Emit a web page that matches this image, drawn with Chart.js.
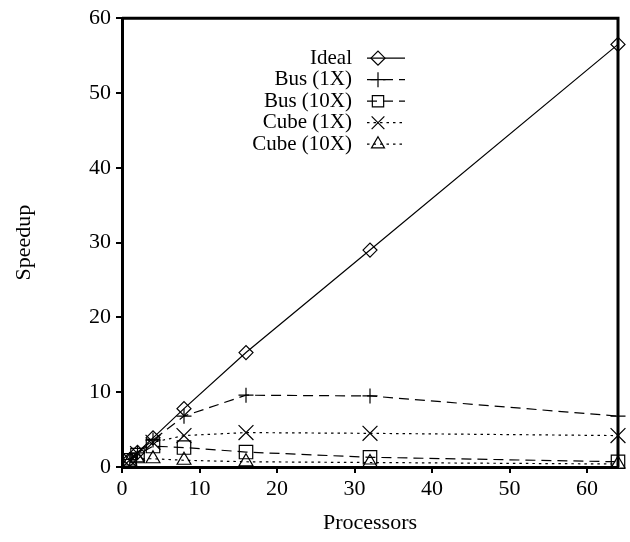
<!DOCTYPE html>
<html>
<head>
<meta charset="utf-8">
<script src="https://cdn.jsdelivr.net/npm/chart.js@4/dist/chart.umd.min.js"></script>
<style>
  html, body { margin: 0; padding: 0; background: #fff; }
  #wrap { width: 630px; height: 542px; }
</style>
</head>
<body>
<div id="wrap"><canvas id="c" width="630" height="542"></canvas></div>
<script>
// processors vs speedup
const procs     = [1, 2, 4, 8, 16, 32, 64];
const ideal     = [1, 1.95, 3.9, 7.8, 15.3, 29, 56.5];
const bus1x     = [1, 1.9, 3.6, 6.8, 9.6, 9.5, 6.8];
const bus10x    = [0.9, 1.6, 2.8, 2.6, 2.0, 1.3, 0.7];
const cube1x    = [0.95, 1.8, 3.3, 4.2, 4.6, 4.5, 4.2];
const cube10x   = [0.8, 1.1, 1.1, 0.9, 0.7, 0.6, 0.4];
const seriesNames = ['Ideal', 'Bus (1X)', 'Bus (10X)', 'Cube (1X)', 'Cube (10X)'];
const xTicks = [0, 10, 20, 30, 40, 50, 60];
const yTicks = [0, 10, 20, 30, 40, 50, 60];

const FONT = 'Liberation Serif, Times New Roman, serif';

function pts(ys) {
  return procs.map(function(p, i) { return {x: p, y: ys[i]}; });
}

function ds(label, ys, dash, style, r, legendR) {
  return {
    label: label,
    data: pts(ys),
    borderColor: '#000',
    borderWidth: 1.2,
    borderDash: dash,
    pointStyle: style,
    pointRadius: r,
    legendRadius: legendR,
    pointBorderColor: '#000',
    pointBackgroundColor: 'rgba(0,0,0,0)',
    pointBorderWidth: 1.2,
    tension: 0,
    fill: false,
    clip: false
  };
}

// legend: text right-aligned, sample line on the right
const sideLegend = {
  id: 'sideLegend',
  afterDraw: function(chart) {
    const ctx = chart.ctx;
    const a = chart.chartArea;
    const textRight = a.left + 230;
    const lx0 = a.left + 245, lx1 = a.left + 283, mx = a.left + 256;
    ctx.save();
    ctx.font = '21px ' + FONT;
    ctx.textAlign = 'right';
    ctx.textBaseline = 'middle';
    chart.data.datasets.forEach(function(d, i) {
      const y = a.top + 40 + i * 21.5;
      ctx.fillStyle = '#000';
      ctx.fillText(d.label, textRight, y);
      ctx.strokeStyle = '#000';
      ctx.lineWidth = d.borderWidth;
      ctx.setLineDash(d.borderDash || []);
      ctx.beginPath();
      ctx.moveTo(lx0, y);
      ctx.lineTo(lx1, y);
      ctx.stroke();
      ctx.setLineDash([]);
      ctx.fillStyle = 'rgba(0,0,0,0)';
      ctx.lineWidth = d.pointBorderWidth;
      Chart.helpers.drawPoint(ctx, {pointStyle: d.pointStyle, radius: d.legendRadius, rotation: 0, borderWidth: d.pointBorderWidth}, mx, y);
    });
    // frame on top and right
    ctx.strokeStyle = '#000';
    ctx.lineWidth = 3;
    ctx.beginPath();
    ctx.moveTo(a.left, a.top);
    ctx.lineTo(a.right, a.top);
    ctx.lineTo(a.right, a.bottom);
    ctx.stroke();
    ctx.restore();
  }
};

new Chart(document.getElementById('c').getContext('2d'), {
  type: 'line',
  data: {
    datasets: [
      ds(seriesNames[0], ideal,   [],       'rectRot',  7,   7),
      ds(seriesNames[1], bus1x,   [10, 6],  'cross',    7.5, 7.5),
      ds(seriesNames[2], bus10x,  [10, 6],  'rect',     9.5, 8),
      ds(seriesNames[3], cube1x,  [2.5, 4], 'crossRot', 10.5, 9),
      ds(seriesNames[4], cube10x, [2.5, 4], 'triangle', 8,   7.5)
    ]
  },
  options: {
    responsive: false,
    animation: false,
    layout: {padding: {top: 15, right: 12, left: 0, bottom: 0}},
    plugins: {
      legend: {display: false},
      tooltip: {enabled: false}
    },
    scales: {
      x: {
        type: 'linear',
        min: 0,
        max: 64,
        afterBuildTicks: function(s) { s.ticks = xTicks.map(function(v) { return {value: v}; }); },
        afterFit: function(s) { s.height = 75; },
        ticks: {color: '#000', font: {family: FONT, size: 22}, padding: 3, maxRotation: 0, autoSkip: false},
        grid: {drawOnChartArea: false, drawTicks: true, tickLength: 6, color: '#000', lineWidth: 2},
        border: {display: true, color: '#000', width: 3},
        title: {display: true, text: 'Processors', color: '#000', font: {family: FONT, size: 22}, padding: {top: 0, bottom: 6}}
      },
      y: {
        type: 'linear',
        min: 0,
        max: 60,
        afterBuildTicks: function(s) { s.ticks = yTicks.map(function(v) { return {value: v}; }); },
        afterFit: function(s) { s.width = 122; },
        ticks: {color: '#000', font: {family: FONT, size: 22}, padding: 5, autoSkip: false},
        grid: {drawOnChartArea: false, drawTicks: true, tickLength: 6, color: '#000', lineWidth: 2},
        border: {display: true, color: '#000', width: 3},
        title: {display: true, text: 'Speedup', color: '#000', font: {family: FONT, size: 22}, padding: {top: 11, bottom: 0}}
      }
    }
  },
  plugins: [sideLegend]
});
</script>
</body>
</html>
